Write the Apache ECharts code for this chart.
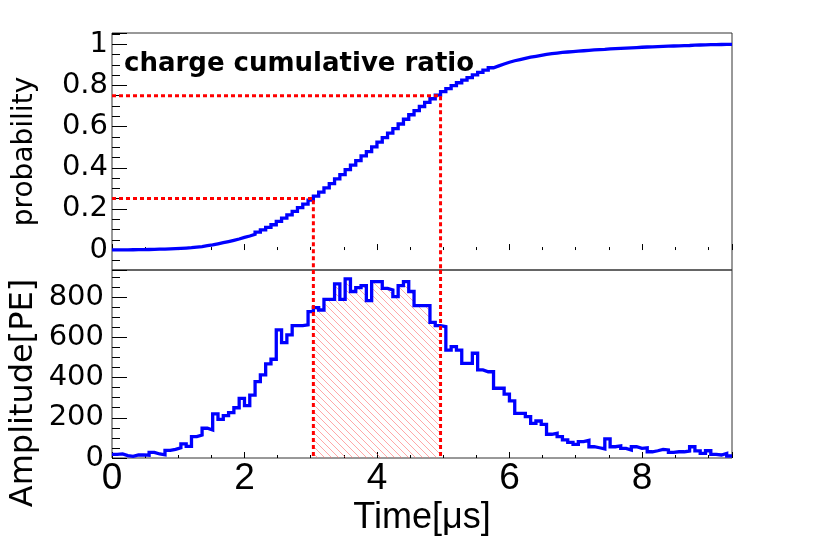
<!DOCTYPE html>
<html>
<head>
<meta charset="utf-8">
<script src="https://cdn.jsdelivr.net/npm/echarts@6.0.0/dist/echarts.min.js"></script>
<style>
html,body{margin:0;padding:0;background:#fff;}
#chart{width:830px;height:543px;}
</style>
</head>
<body>
<div id="chart"></div>
<script>
// ---------------- data ----------------
const binWidth = 0.08;          // histogram bin width in µs (bins start at 0)
const amplitude = [
  18,20,12,8,15,16,14,28,20,16,
  38,43,51,70,58,106,114,148,139,219,
  192,211,226,250,297,260,313,380,413,468,
  491,637,574,612,658,658,662,728,748,736,
  789,789,866,789,891,828,847,857,783,877,
  877,844,836,803,857,877,828,758,758,758,
  675,658,653,537,554,537,471,471,521,438,
  429,429,347,347,318,284,222,222,206,172,
  184,167,118,123,106,90,78,68,81,88,
  56,51,45,95,56,60,48,40,56,48,
  51,31,36,43,40,28,31,31,35,56,
  35,23,36,18,15,23,10
];
const cumulativeRatio = [
  0.0005,0.001,0.0013,0.0015,0.0019,0.0024,0.0027,0.0035,0.004,0.0044,
  0.0054,0.0065,0.0079,0.0097,0.0113,0.0141,0.0171,0.021,0.0247,0.0304,
  0.0355,0.0411,0.0471,0.0537,0.0615,0.0684,0.0766,0.0867,0.0976,0.1099,
  0.1229,0.1397,0.1549,0.171,0.1884,0.2058,0.2233,0.2425,0.2622,0.2817,
  0.3025,0.3233,0.3462,0.367,0.3906,0.4124,0.4348,0.4574,0.4781,0.5013,
  0.5244,0.5467,0.5688,0.59,0.6126,0.6358,0.6576,0.6777,0.6977,0.7177,
  0.7355,0.7529,0.7701,0.7843,0.7989,0.8131,0.8256,0.838,0.8518,0.8633,
  0.8747,0.886,0.8951,0.9043,0.9127,0.9202,0.9261,0.9319,0.9374,0.9419,
  0.9468,0.9512,0.9543,0.9575,0.9603,0.9627,0.9648,0.9666,0.9687,0.971,
  0.9725,0.9739,0.975,0.9775,0.979,0.9806,0.9819,0.9829,0.9844,0.9857,
  0.987,0.9879,0.9888,0.9899,0.991,0.9917,0.9926,0.9934,0.9943,0.9958,
  0.9967,0.9973,0.9983,0.9987,0.9991,0.9997,1.0
];
const quantileProbs = [0.25, 0.75];
const quantileTimes = [3.04, 4.96];
const timeTickLabels = [0, 2, 4, 6, 8];
const probTickLabels = [0, 0.2, 0.4, 0.6, 0.8, 1];
const ampTickLabels = [0, 200, 400, 600, 800];

// ---------------- axis ranges ----------------
const xMax = binWidth * amplitude.length;
const yTopMin = -0.097, yTopMax = 1.055;
const yBotMin = 0, yBotMax = 935;

// ---------------- build step data ----------------
function stepData(values) {
  const d = values.map((v, i) => [+(i * binWidth).toFixed(4), v]);
  d.push([+(values.length * binWidth).toFixed(4), values[values.length - 1]]);
  return d;
}
const histData = stepData(amplitude);
const cumData = stepData(cumulativeRatio);
const hatchData = [];
amplitude.forEach((v, i) => {
  const x = +(i * binWidth).toFixed(4);
  if (x >= quantileTimes[0] - 1e-6 && x < quantileTimes[1] - 1e-6) hatchData.push([x, v]);
});
hatchData.push([quantileTimes[1], hatchData[hatchData.length - 1][1]]);

function inList(list, v) {
  return list.some(t => Math.abs(t - v) < 1e-6);
}

// hatch pattern
const tile = 7;
const pat = document.createElement('canvas');
pat.width = tile; pat.height = tile;
const pc = pat.getContext('2d');
pc.strokeStyle = 'rgba(255,110,110,0.6)';
pc.lineWidth = 1;
pc.beginPath();
pc.moveTo(-1, -1); pc.lineTo(tile + 1, tile + 1);
pc.moveTo(tile - 1, -1); pc.lineTo(tile + 1, 1);
pc.moveTo(-1, tile - 1); pc.lineTo(1, tile + 1);
pc.stroke();

const FONT_Y = 'DejaVu Sans';
const FONT_X = 'Liberation Sans';

const gridCommon = {left: 112, width: 620, show: true, borderColor: '#333', borderWidth: 1, backgroundColor: 'transparent', outerBoundsMode: 'none', containLabel: false};

const xCommon = {
  type: 'value', min: 0, max: xMax, interval: 2,
  axisLine: {show: false},
  axisTick: {show: true, inside: true, length: 6, lineStyle: {color: '#000', width: 1}},
  minorTick: {show: true, splitNumber: 4, length: 3, lineStyle: {color: '#000', width: 1}},
  splitLine: {show: false}
};

const dashStyle = {color: '#ff0000', width: 3, type: [4, 3]};

const series = [
  {
    name: 'cumulative', type: 'line', xAxisIndex: 0, yAxisIndex: 0,
    data: cumData, step: 'end', symbol: 'none', z: 2,
    lineStyle: {color: '#0000ff', width: 3.3, join: 'miter'}
  },
  {
    name: 'hatch', type: 'line', xAxisIndex: 1, yAxisIndex: 1,
    data: hatchData, step: 'end', symbol: 'none', z: 1,
    lineStyle: {width: 0, opacity: 0},
    areaStyle: {color: {image: pat, repeat: 'repeat'}, opacity: 1}
  },
  {
    name: 'amplitude', type: 'line', xAxisIndex: 1, yAxisIndex: 1,
    data: histData, step: 'end', symbol: 'none', z: 2,
    lineStyle: {color: '#0000ff', width: 3.3, join: 'miter'}
  }
];
quantileProbs.forEach((p, k) => {
  const t = quantileTimes[k];
  series.push({
    type: 'line', xAxisIndex: 0, yAxisIndex: 0, symbol: 'none', z: 3,
    data: [[0, p], [t, p], [t, yTopMin]], lineStyle: dashStyle
  });
  series.push({
    type: 'line', xAxisIndex: 1, yAxisIndex: 1, symbol: 'none', z: 3,
    data: [[t, yBotMax], [t, yBotMin]], lineStyle: dashStyle
  });
});

const option = {
  animation: false,
  backgroundColor: '#fff',
  title: {
    text: 'charge cumulative ratio', left: 124, top: 51, padding: 0,
    textStyle: {fontFamily: FONT_Y, fontWeight: 'bold', fontSize: 26, color: '#000'}
  },
  grid: [
    Object.assign({top: 33, height: 237}, gridCommon),
    Object.assign({top: 270, height: 188}, gridCommon)
  ],
  xAxis: [
    Object.assign({gridIndex: 0, axisLabel: {show: false}}, xCommon),
    Object.assign({
      gridIndex: 1,
      name: 'Time[μs]', nameLocation: 'middle', nameGap: 42,
      nameTextStyle: {fontFamily: FONT_X, fontSize: 36, color: '#000'},
      axisLabel: {
        show: true, margin: 2, fontFamily: FONT_X, fontSize: 37, color: '#000',
        formatter: v => inList(timeTickLabels, v) ? String(v) : ''
      }
    }, xCommon)
  ],
  yAxis: [
    {
      gridIndex: 0, type: 'value', min: yTopMin, max: yTopMax, splitNumber: 5,
      name: 'probability', nameLocation: 'middle', nameGap: 73, nameRotate: 90,
      nameTextStyle: {fontFamily: FONT_Y, fontSize: 28, color: '#000'},
      axisLine: {show: false},
      axisTick: {show: true, inside: true, length: 15, lineStyle: {color: '#000', width: 1}},
      minorTick: {show: true, splitNumber: 4, length: 8, lineStyle: {color: '#000', width: 1}},
      splitLine: {show: false},
      axisLabel: {
        margin: 4, fontFamily: FONT_Y, fontSize: 29, color: '#000',
        formatter: v => inList(probTickLabels, v) ? String(+v.toFixed(2)) : ''
      }
    },
    {
      gridIndex: 1, type: 'value', min: yBotMin, max: yBotMax, interval: 200,
      axisLine: {show: false},
      axisTick: {show: true, inside: true, length: 15, lineStyle: {color: '#000', width: 1}},
      minorTick: {show: true, splitNumber: 4, length: 8, lineStyle: {color: '#000', width: 1}},
      splitLine: {show: false},
      axisLabel: {
        margin: 8, fontFamily: FONT_Y, fontSize: 29, color: '#000',
        formatter: v => inList(ampTickLabels, v) ? String(v) : ''
      }
    }
  ],
  graphic: [
    {
      type: 'text', x: 24, y: 393, rotation: Math.PI / 2, z: 10,
      style: {
        text: 'Amplitude[PE]', fill: '#000',
        font: '32px "DejaVu Sans"', textAlign: 'center', textVerticalAlign: 'middle'
      }
    }
  ],
  series: series
};

const chart = echarts.init(document.getElementById('chart'), null, {renderer: 'canvas'});
chart.setOption(option);
</script>
</body>
</html>
